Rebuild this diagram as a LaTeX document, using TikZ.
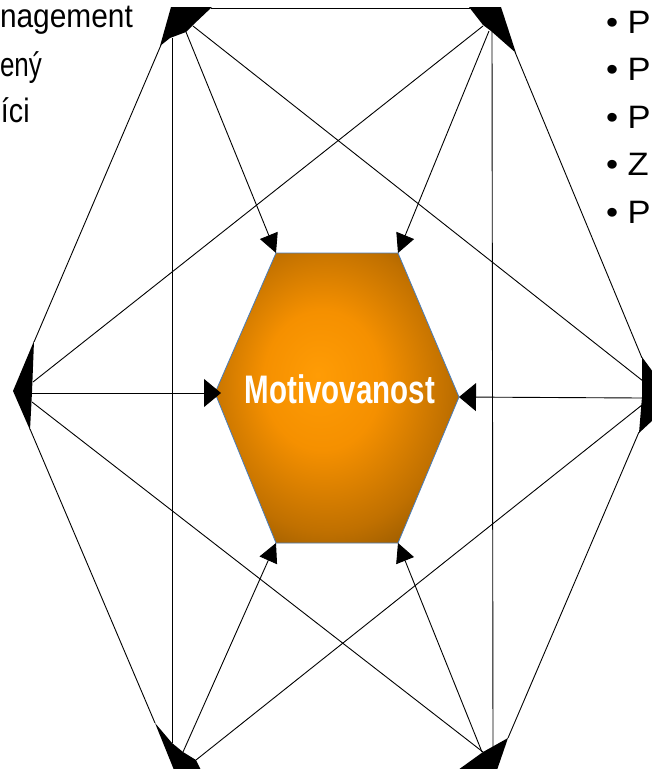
\documentclass[tikz,border=0pt]{standalone}
\usepackage{fontspec}
\setmainfont{Liberation Sans}
\usetikzlibrary{arrows.meta}
\definecolor{hexborder}{HTML}{4A7EBB}
\definecolor{orA}{HTML}{FF9C05}
\definecolor{orB}{HTML}{F59000}
\definecolor{orC}{HTML}{C07000}
\definecolor{orD}{HTML}{855000}
\definecolor{orE}{HTML}{683F00}
\pgfdeclareradialshading{hexshade}{\pgfpoint{-4bp}{4bp}}{color(0bp)=(orA); color(12bp)=(orB); color(25bp)=(orC); color(35bp)=(orD); color(50bp)=(orE)}
\tikzset{
  conn/.style={draw=black, line width=0.9pt},
  tohex/.style={conn, -{Triangle[length=19pt,width=19pt]}},
  tohexh/.style={conn, -{Triangle[length=17pt,width=28pt]}},
  cornerblk/.style={fill=black, draw=none},
  sidetext/.style={anchor=base west, inner sep=0pt, outer sep=0pt, text=black},
}
\begin{document}
\begin{tikzpicture}[x=1pt,y=-1pt]
\useasboundingbox (0,0) rectangle (652,769);
\clip (0,0) rectangle (652,769);
\fill[white] (0,0) rectangle (652,769);

% inner hexagon vertices
\coordinate (hTL) at (276,253);
\coordinate (hTR) at (398,253);
\coordinate (hR) at (459,397);
\coordinate (hBR) at (398,543);
\coordinate (hBL) at (276,543);
\coordinate (hL) at (215,393);
\coordinate (hLtip) at (221,393);

\shade[shading=hexshade, draw=hexborder, line width=0.8pt]
  (hTL) -- (hTR) -- (hR) -- (hBR) -- (hBL) -- (hL) -- cycle;
\node[anchor=base, inner sep=0pt, text=white, font=\bfseries\fontsize{29.5}{30}\selectfont] (motiv) at (340,403) {\scalebox{1}[1.35]{Motivovanost}};

% outer corner end points
\coordinate (tlTop) at (211,8);
\coordinate (trTop) at (470,8);
\coordinate (tlEdge) at (161,45);
\coordinate (tlVert) at (172,38);
\coordinate (tlArr) at (186,32);
\coordinate (tlDiag) at (193,26);
\coordinate (trDiag) at (483,26);
\coordinate (trArr) at (489,31);
\coordinate (trVert) at (492,31);
\coordinate (trEdge) at (515,52);
\coordinate (lEdgeU) at (34,342);
\coordinate (lDiagU) at (33,382);
\coordinate (lArr) at (32,393);
\coordinate (lDiagD) at (32,402);
\coordinate (lEdgeD) at (30,429);
\coordinate (rEdgeU) at (642,358);
\coordinate (rDiagU) at (643,381);
\coordinate (rArr) at (642,398);
\coordinate (rDiagD) at (642,405);
\coordinate (rEdgeD) at (639,432);
\coordinate (blEdge) at (155,723);
\coordinate (blVert) at (172,743);
\coordinate (blArr) at (183,752);
\coordinate (blDiag) at (196,760);
\coordinate (brDiag) at (483,752);
\coordinate (brArr) at (482,752);
\coordinate (brVert) at (493,748);
\coordinate (brEdge) at (508,738);

% outer hexagon edges
\draw[conn] (tlTop) -- (trTop);
\draw[conn] (tlEdge) -- (lEdgeU);
\draw[conn] (lEdgeD) -- (blEdge);
\draw[conn] (brEdge) -- (rEdgeD);
\draw[conn] (rEdgeU) -- (trEdge);

% diagonals
\draw[conn] (tlVert) -- (blVert);
\draw[conn] (trVert) -- (brVert);
\draw[conn] (tlDiag) -- (rDiagU);
\draw[conn] (trDiag) -- (lDiagU);
\draw[conn] (lDiagD) -- (brDiag);
\draw[conn] (rDiagD) -- (blDiag);

% arrows to the centre
\draw[tohex] (tlArr) -- (hTL);
\draw[tohex] (trArr) -- (hTR);
\draw[tohexh] (lArr) -- (hLtip);
\draw[tohexh] (rArr) -- (hR);
\draw[tohex] (blArr) -- (hBL);
\draw[tohex] (brArr) -- (hBR);

% black corner marks
\fill[cornerblk] (171,7) -- (212,7) -- (193,25) -- (186,32) -- (170,38) -- (160,46) -- cycle;
\fill[cornerblk] (469,7) -- (501,7) -- (516,53) -- (491,31) -- (483,25) -- cycle;
\fill[cornerblk] (34,341) -- (13,391) -- (30,430) -- (32,392) -- cycle;
\fill[cornerblk] (642,357) -- (653,372) -- (653,420) -- (639,433) -- (642,397) -- cycle;
\fill[cornerblk] (155,723) -- (172,743) -- (183,752) -- (196,760) -- (201,770) -- (174,770) -- cycle;
\fill[cornerblk] (458,770) -- (483,752) -- (508,738) -- (497,770) -- cycle;

% text at top left
\node[sidetext] (tA) at (0,27) {\scalebox{1.22}[1.35]{\fontsize{24.5}{28}\selectfont nagement}};
\node[sidetext] (tB) at (0,76) {\scalebox{1.0}[1.3]{\fontsize{26}{28}\selectfont ený}};
\node[sidetext] (tC) at (1,122) {\scalebox{1.1}[1.3]{\fontsize{26}{28}\selectfont íci}};

% bullets at top right
\node[sidetext] (b1) at (606,33) {\scalebox{1.15}[1.08]{\fontsize{30}{32}\selectfont • P}};
\node[sidetext] (b2) at (606,80.5) {\scalebox{1.15}[1.08]{\fontsize{30}{32}\selectfont • P}};
\node[sidetext] (b3) at (606,128) {\scalebox{1.15}[1.08]{\fontsize{30}{32}\selectfont • P}};
\node[sidetext] (b4) at (606,175.5) {\scalebox{1.15}[1.08]{\fontsize{30}{32}\selectfont • Z}};
\node[sidetext] (b5) at (606,223) {\scalebox{1.15}[1.08]{\fontsize{30}{32}\selectfont • P}};
\end{tikzpicture}
\end{document}
